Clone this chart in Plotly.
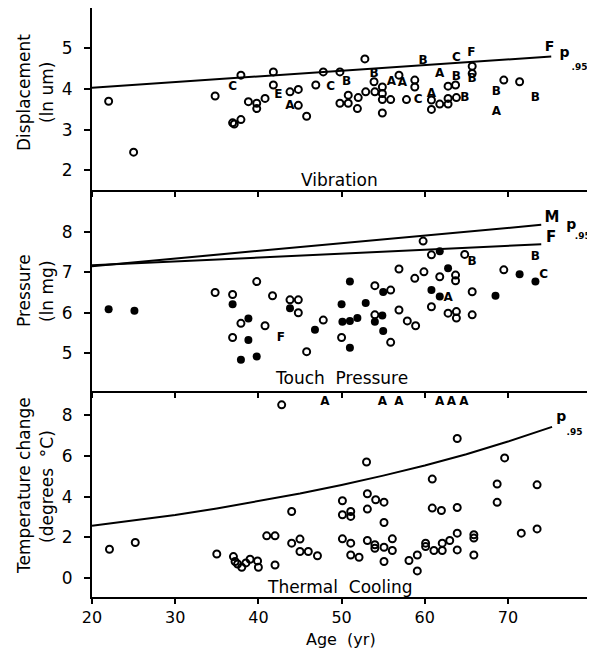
import plotly.graph_objects as go

# ---------------- DATA ----------------
# Vibration panel (Displacement, ln um)
vib_open_age = [22.0, 25.0, 34.8, 36.9, 37.1, 37.9, 37.9, 38.8, 39.8, 39.8, 40.8, 41.8, 41.8, 43.8, 44.8,
                44.8, 45.8, 46.9, 47.8, 49.8, 49.8, 50.8, 50.8, 52.0, 51.9, 52.9, 52.8, 53.9, 54.0, 54.9,
                54.9, 54.9, 54.9, 55.9, 56.9, 58.8, 58.8, 57.8, 60.8, 60.8, 61.8, 62.8, 62.8, 62.8, 63.7,
                63.8, 65.7, 65.7, 69.5, 71.4]
vib_open_val = [3.70, 2.45, 3.83, 3.17, 3.14, 3.25, 4.34, 3.69, 3.65, 3.52, 3.77, 4.42, 4.10, 3.93, 3.99,
                3.60, 3.33, 4.10, 4.42, 4.42, 3.65, 3.85, 3.65, 3.79, 3.52, 3.93, 4.74, 4.18, 3.93, 4.05,
                3.89, 3.74, 3.41, 3.74, 4.34, 4.22, 4.05, 3.74, 3.73, 3.50, 3.63, 3.63, 3.77, 4.07, 4.10,
                3.79, 4.56, 4.38, 4.22, 4.18]
vib_let_age = [36.9, 42.4, 43.8, 48.7, 50.6, 53.9, 56.0, 57.3, 59.2, 59.8, 60.8, 61.8, 63.8, 63.8, 64.8,
               65.6, 65.7, 68.6, 68.6, 73.3]
vib_let_val = [4.05, 3.85, 3.58, 4.05, 4.18, 4.36, 4.18, 4.14, 3.74, 4.69, 3.89, 4.38, 4.30, 4.75, 3.79,
               4.88, 4.24, 3.93, 3.44, 3.79]
vib_let_txt = ["C", "E", "A", "C", "B", "B", "A", "A", "C", "B", "A", "A", "B", "C", "B",
               "F", "B", "B", "A", "B"]
vib_line_age = [20, 75.2]
vib_line_val = [4.03, 4.80]

# Touch pressure panel (Pressure, ln mg)
tp_open_age = [34.8, 36.9, 36.9, 37.9, 39.8, 40.8, 41.7, 43.8, 44.8, 44.8, 45.8, 47.8, 50.0, 54.0, 54.0,
               55.9, 55.9, 56.9, 56.9, 57.9, 58.9, 58.8, 59.9, 59.8, 60.8, 60.8, 61.8, 62.8, 63.7, 63.7,
               63.8, 63.8, 64.8, 65.7, 65.7, 69.5]
tp_open_val = [6.50, 6.45, 5.39, 5.74, 6.77, 5.68, 6.42, 6.32, 6.32, 6.00, 5.04, 5.82, 5.39, 6.67, 5.95,
               6.56, 5.27, 7.08, 6.07, 5.80, 5.68, 6.85, 7.01, 7.77, 7.43, 6.15, 6.89, 5.99, 6.93, 6.79,
               6.03, 5.87, 7.44, 6.52, 5.95, 7.06]
tp_fill_age = [22.0, 25.1, 36.9, 38.8, 38.8, 37.9, 39.8, 43.8, 46.8, 50.0, 51.0, 50.1, 51.0, 51.9, 51.0,
               52.9, 55.0, 54.0, 54.9, 55.0, 60.8, 61.8, 61.8, 62.8, 68.5, 71.4, 73.3]
tp_fill_val = [6.09, 6.05, 6.21, 5.86, 5.33, 4.84, 4.92, 6.11, 5.58, 6.21, 6.77, 5.78, 5.80, 5.87, 5.14,
               6.24, 6.51, 5.78, 5.93, 5.55, 6.56, 7.52, 6.40, 7.10, 6.42, 6.95, 6.77]
tp_let_age = [42.7, 62.8, 65.7, 73.3, 74.3]
tp_let_val = [5.37, 6.36, 7.26, 7.38, 6.93]
tp_let_txt = ["F", "A", "B", "B", "C"]
tp_M_age = [20, 74]
tp_M_val = [7.15, 8.17]
tp_F_age = [20, 74]
tp_F_val = [7.17, 7.69]

# Thermal cooling panel (Temperature change, degrees C)
tc_open_age = [22.1, 25.2, 35.0, 37.0, 37.2, 37.5, 38.0, 38.5, 39.0, 39.9, 40.0, 42.0, 41.0, 42.0, 42.8,
               44.0, 44.0, 45.0, 45.0, 46.0, 47.1, 50.1, 50.1, 51.1, 51.1, 50.1, 51.1, 51.1, 52.1, 53.0,
               53.1, 53.1, 53.1, 54.0, 54.0, 54.1, 55.1, 55.1, 55.1, 55.1, 56.1, 56.1, 58.1, 59.1, 59.1,
               60.1, 60.1, 60.9, 60.9, 61.1, 62.0, 62.1, 62.1, 63.0, 63.9, 63.9, 63.9, 63.9, 65.9, 65.9,
               65.9, 68.7, 68.7, 69.6, 71.6, 73.5, 73.5]
tc_open_val = [1.42, 1.75, 1.19, 1.06, 0.82, 0.70, 0.54, 0.75, 0.93, 0.85, 0.54, 0.65, 2.08, 2.08, 8.50,
               3.27, 1.72, 1.92, 1.31, 1.31, 1.10, 3.80, 3.11, 3.27, 3.03, 1.93, 1.72, 1.14, 1.03, 5.70,
               4.14, 3.39, 1.85, 1.64, 1.47, 3.85, 3.73, 2.73, 1.52, 0.82, 1.93, 1.36, 0.87, 1.14, 0.36,
               1.72, 1.55, 4.86, 3.44, 1.36, 3.32, 1.36, 1.72, 1.85, 6.85, 3.47, 2.21, 1.39, 2.13, 1.97,
               1.14, 4.62, 3.72, 5.90, 2.21, 4.58, 2.42]
tc_let_age = [48.0, 54.9, 56.9, 61.8, 63.2, 64.7]
tc_let_val = [8.63, 8.63, 8.63, 8.63, 8.63, 8.63]
tc_let_txt = ["A", "A", "A", "A", "A", "A"]
tc_curve_age = [20, 25, 30, 35, 40, 45, 50, 55, 60, 65, 70, 75.3]
tc_curve_val = [2.57, 2.82, 3.10, 3.42, 3.77, 4.15, 4.57, 5.03, 5.53, 6.08, 6.70, 7.42]

x_ticks = [20, 30, 40, 50, 60, 70]

# ---------------- FIGURE ----------------
FONT = "DejaVu Sans"
BLACK = "black"
fig = go.Figure()

def open_pts(x, y, xa, ya):
    fig.add_trace(go.Scatter(x=x, y=y, mode="markers", xaxis=xa, yaxis=ya,
                             marker=dict(symbol="circle-open", size=7, color=BLACK,
                                         line=dict(width=2, color=BLACK)),
                             hoverinfo="skip", showlegend=False))

def fill_pts(x, y, xa, ya):
    fig.add_trace(go.Scatter(x=x, y=y, mode="markers", xaxis=xa, yaxis=ya,
                             marker=dict(symbol="circle", size=8, color=BLACK),
                             hoverinfo="skip", showlegend=False))

def letters(x, y, t, xa, ya, size=12):
    fig.add_trace(go.Scatter(x=x, y=y, text=t, mode="text", xaxis=xa, yaxis=ya,
                             textfont=dict(family=FONT, size=size, color=BLACK, weight="bold"),
                             textposition="middle center", hoverinfo="skip", showlegend=False))

def line(x, y, xa, ya):
    fig.add_trace(go.Scatter(x=x, y=y, mode="lines", xaxis=xa, yaxis=ya,
                             line=dict(color=BLACK, width=2), hoverinfo="skip", showlegend=False))

# top panel -> x3/y3
line(vib_line_age, vib_line_val, "x3", "y3")
open_pts(vib_open_age, vib_open_val, "x3", "y3")
letters(vib_let_age, vib_let_val, vib_let_txt, "x3", "y3")
letters([75.0], [5.02], ["F"], "x3", "y3", 14)
letters([76.8], [4.88], ["p"], "x3", "y3", 14)
letters([78.6], [4.52], [".95"], "x3", "y3", 9)

# middle panel -> x2/y2
line(tp_M_age, tp_M_val, "x2", "y2")
line(tp_F_age, tp_F_val, "x2", "y2")
open_pts(tp_open_age, tp_open_val, "x2", "y2")
fill_pts(tp_fill_age, tp_fill_val, "x2", "y2")
letters(tp_let_age, tp_let_val, tp_let_txt, "x2", "y2")
letters([75.3], [8.33], ["M"], "x2", "y2", 15)
letters([75.2], [7.84], ["F"], "x2", "y2", 15)
letters([77.6], [8.16], ["p"], "x2", "y2", 14)
letters([79.0], [7.88], [".95"], "x2", "y2", 9)

# bottom panel -> x/y
line(tc_curve_age, tc_curve_val, "x", "y")
open_pts(tc_open_age, tc_open_val, "x", "y")
letters(tc_let_age, tc_let_val, tc_let_txt, "x", "y")
letters([76.4], [7.86], ["p"], "x", "y", 14)
letters([78.0], [7.15], [".95"], "x", "y", 9)

# panel names
fig.add_annotation(x=49.7, y=1.76, xref="x3", yref="y3", text="Vibration", showarrow=False,
                   font=dict(family=FONT, size=17, color=BLACK))
fig.add_annotation(x=50.0, y=4.40, xref="x2", yref="y2", text="Touch  Pressure", showarrow=False,
                   font=dict(family=FONT, size=17, color=BLACK))
fig.add_annotation(x=49.8, y=-0.43, xref="x", yref="y", text="Thermal  Cooling", showarrow=False,
                   font=dict(family=FONT, size=17, color=BLACK))

# y titles (two lines each)
W = 495.0
def ytitle(text, xpx, ypx):
    fig.add_annotation(x=(xpx - 92) / W, y=1 - (ypx - 8) / 589.0, xref="paper", yref="paper",
                       text=text, textangle=-90, showarrow=False, xanchor="center", yanchor="middle",
                       font=dict(family=FONT, size=17, color=BLACK))

ytitle("Displacement", 24, 93)
ytitle("(ln um)", 47, 92)
ytitle("Pressure", 24, 291)
ytitle("(ln mg)", 47, 291)
ytitle("Temperature change", 24, 486)
ytitle("(degrees  °C)", 47, 487)
fig.add_annotation(x=(341 - 92) / W, y=-(639 - 597) / 589.0, xref="paper", yref="paper",
                   text="Age  (yr)", showarrow=False, xanchor="center", yanchor="middle",
                   font=dict(family=FONT, size=16, color=BLACK))

xcommon = dict(range=[20, 79.5], tickvals=x_ticks, ticks="outside", ticklen=5, tickwidth=1.5,
               tickcolor=BLACK, showline=True, linewidth=2, linecolor=BLACK, showgrid=False,
               zeroline=False, tickfont=dict(family=FONT, size=16, color=BLACK))
ycommon = dict(ticks="outside", ticklen=6, tickwidth=1.5, tickcolor=BLACK, showline=True,
               linewidth=2, linecolor=BLACK, showgrid=False, zeroline=False,
               tickfont=dict(family=FONT, size=17, color=BLACK), ticklabelstandoff=8)

d1 = 206 / 589.0
d2 = 407 / 589.0
fig.update_layout(
    width=590, height=662,
    margin=dict(l=92, r=3, t=8, b=65),
    paper_bgcolor="white", plot_bgcolor="white",
    xaxis=dict(anchor="y", **xcommon, showticklabels=True),
    xaxis2=dict(anchor="y2", matches="x", **xcommon, showticklabels=False),
    xaxis3=dict(anchor="y3", matches="x", **xcommon, showticklabels=False),
    yaxis=dict(domain=[0, d1], range=[-0.92, 9.18], tickvals=[0, 2, 4, 6, 8], anchor="x", **ycommon),
    yaxis2=dict(domain=[d1, d2], range=[4.07, 9.03], tickvals=[5, 6, 7, 8], anchor="x2", **ycommon),
    yaxis3=dict(domain=[d2, 1], range=[1.52, 5.99], tickvals=[2, 3, 4, 5], anchor="x3", **ycommon),
)

fig.write_html("out.html")
